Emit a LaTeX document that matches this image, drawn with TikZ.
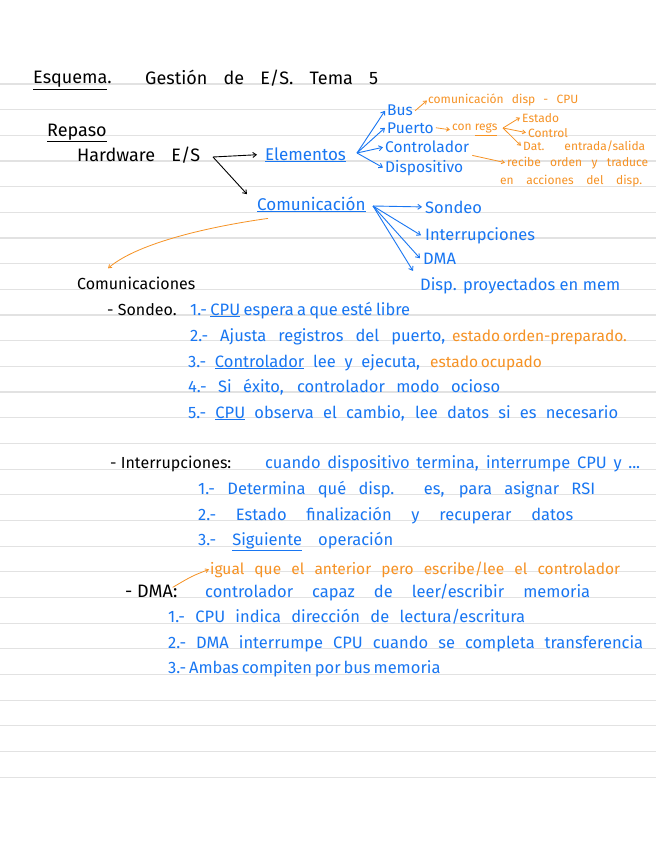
\documentclass[tikz,border=0pt]{standalone}
\usepackage{fontspec}
\setmainfont{Fira Sans}
\usepackage{xcolor}
\usetikzlibrary{arrows.meta, positioning}

\definecolor{penblue}{RGB}{24,118,242}
\definecolor{penorange}{RGB}{246,146,36}
\definecolor{rulegray}{RGB}{226,226,226}
\newcommand{\spread}[2]{\makebox[#1pt][s]{#2}}

\begin{document}
\begin{tikzpicture}[
    x=1pt, y=-1pt,
    ink/.style={anchor=base west, inner sep=0pt, text=black,
        font=\fontsize{18}{20}\selectfont},
    sub/.style={ink, font=\fontsize{16}{18}\selectfont},
    blu/.style={ink, text=penblue, font=\fontsize{16.5}{18}\selectfont},
    big/.style={blu, font=\fontsize{17}{19}\selectfont},
    tree/.style={blu, font=\fontsize{15.5}{17}\selectfont},
    org/.style={ink, text=penorange, font=\fontsize{15.5}{17}\selectfont},
    note/.style={ink, text=penorange, font=\fontsize{12}{13}\selectfont},
    karr/.style={-{Straight Barb[length=3.5pt,width=5pt]}, line width=0.9pt, black},
    barr/.style={-{Straight Barb[length=3.5pt,width=5pt]}, line width=0.9pt, penblue},
    oarr/.style={-{Straight Barb[length=3pt,width=4pt]}, line width=0.8pt, penorange},
    rule/.style={line width=1.1pt, rulegray}
]
\useasboundingbox (0,0) rectangle (656,848);
\fill[white] (0,0) rectangle (656,848);

% ruled page
\foreach \k in {0,...,27}
    \draw[rule] (0,84+25.67*\k) -- (656,84+25.67*\k);

% heading
\node[ink] (esq) at (33,84) {\underline{Esquema}.};
\node[ink] (gest) at (145,85) {\spread{233}{Gestión de E/S. Tema 5}};
\node[ink] (rep) at (47,136) {\underline{Repaso}};
\node[ink] (hw) at (77,161) {\spread{123}{Hardware E/S}};

% hardware tree
\node[big] (elem) at (265,160) {\underline{Elementos}};
\node[big] (comm) at (257,210) {\underline{Comunicación}};
\coordinate (split) at (213,157);
\draw[karr] (split) -- ([xshift=-8pt]elem.west);
\draw[karr] (split) -- ([xshift=-10pt,yshift=2pt]comm.north west);

\node[tree] (bus) at (387,116) {Bus};
\node[tree] (puerto) at (387,133) {Puerto};
\node[tree] (ctrl) at (385,153) {Controlador};
\node[tree] (disp) at (385,172) {Dispositivo};
\coordinate (fanE) at (357,153);
\foreach \n in {bus, puerto, ctrl, disp}
    \draw[barr] (fanE) -- ([xshift=-2pt]\n.west);

% orange notes on the elements
\node[note] (cdcpu) at (428,104) {\spread{150}{comunicación disp - CPU}};
\node[note] (regs) at (452,131) {con \underline{regs}};
\node[note] (est) at (522,122) {Estado};
\node[note] (ctl) at (528,137) {Control};
\node[note] (dat) at (523,150) {\spread{122}{Dat. entrada/salida}};
\node[note] (rec) at (507,166) {\spread{141}{recibe orden y traduce}};
\node[note] (acc) at (500,184) {\spread{142}{en acciones del disp.}};
\draw[oarr] ([xshift=2pt]bus.east) -- ([xshift=-1pt]cdcpu.west);
\draw[oarr] ([xshift=2pt]puerto.east) -- ([xshift=-2pt]regs.west);
\coordinate (fanR) at (503,128);
\foreach \n in {est, ctl, dat}
    \draw[oarr] (fanR) -- ([xshift=-2pt]\n.west);
\draw[oarr] ([xshift=3pt,yshift=-2pt]ctrl.south east) -- ([xshift=-2pt]rec.west);

% communication tree
\node[blu] (sond) at (425,213) {Sondeo};
\node[blu] (intr) at (425,240) {Interrupciones};
\node[blu] (dma) at (423,264) {DMA};
\node[blu] (dproy) at (420,290) {\spread{200}{Disp. proyectados en mem}};
\coordinate (fanC) at (373,206);
\draw[barr] (fanC) -- ([xshift=-3pt]sond.west);
\draw[barr] (fanC) -- ([xshift=-4pt]intr.west);
\draw[barr] (fanC) -- ([xshift=-3pt]dma.west);
\draw[barr] (fanC) -- ([xshift=-7pt,yshift=6pt]dproy.north west);

\node[sub] (comms) at (77,289) {Comunicaciones};
\draw[oarr] ([xshift=11pt,yshift=-6pt]comm.south west)
    .. controls (200,228) and (135,245) .. ([xshift=31pt,yshift=8pt]comms.north west);

% polling
\node[sub] (sondeo) at (107,315) {- Sondeo.};
\node[blu] (s1) at (190,315) {\spread{220}{1.- \underline{CPU} espera a que esté libre}};
\node[blu] (s2) at (190,341) {\spread{255}{2.- Ajusta registros del puerto,}};
\node[org] (s2o) at (452,341) {\spread{153}{estado orden-preparado.}};
\node[blu] (s3) at (188,367) {\spread{232}{3.- \underline{Controlador} lee y ejecuta,}};
\node[org] (s3o) at (430,367) {\spread{105}{estado ocupado}};
\node[blu] (s4) at (188,392) {\spread{312}{4.- Si éxito, controlador modo ocioso}};
\node[blu] (s5) at (188,418) {\spread{430}{5.- \underline{CPU} observa el cambio, lee datos si es necesario}};

% interrupts
\node[sub] (inter) at (110,468) {- Interrupciones:};
\node[blu] (i0) at (265,468) {\spread{375}{cuando dispositivo termina, interrumpe CPU y ...}};
\node[blu] (i1) at (198,494) {\spread{397}{1.- Determina qué disp. es, para asignar RSI}};
\node[blu] (i2) at (198,520) {\spread{375}{2.- Estado finalización y recuperar datos}};
\node[blu] (i3) at (198,545) {\spread{195}{3.- \underline{Siguiente} operación}};

% DMA
\node[org] (dmao) at (210,574) {\spread{410}{igual que el anterior pero escribe/lee el controlador}};
\node[ink] (dmah) at (125,597) {- DMA:};
\draw[oarr] ([xshift=-5pt,yshift=-3pt]dmah.north east) .. controls (192,576) .. ([xshift=-1pt]dmao.west);
\node[blu] (d0) at (205,597) {\spread{385}{controlador capaz de leer/escribir memoria}};
\node[blu] (d1) at (168,622) {\spread{357}{1.- CPU indica dirección de lectura/escritura}};
\node[blu] (d2) at (168,648) {\spread{475}{2.- DMA interrumpe CPU cuando se completa transferencia}};
\node[blu] (d3) at (168,673) {\spread{265}{3.- Ambas compiten por bus memoria}};
\end{tikzpicture}
\end{document}
